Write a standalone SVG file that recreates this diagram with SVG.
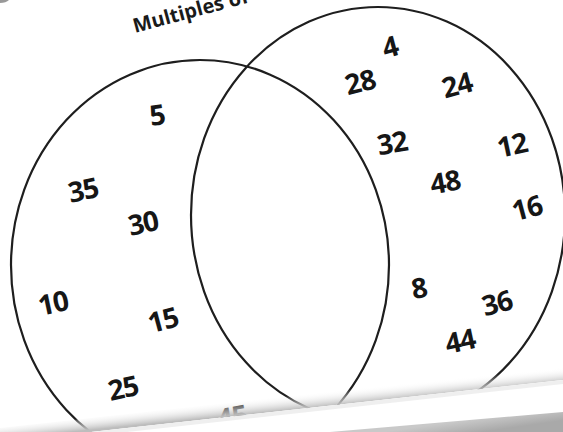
<svg xmlns="http://www.w3.org/2000/svg" width="563" height="432" viewBox="0 0 563 432">
<style>
.c{fill:none;stroke:#1e1e1e;stroke-width:2.2}
.n{font-family:"Open Sans","Liberation Sans",sans-serif;font-weight:700;font-size:28px;fill:#161616;text-anchor:middle;letter-spacing:-1px}
.t{font-family:"Open Sans","Liberation Sans",sans-serif;font-weight:700;font-size:20px;fill:#1a1a1a}
</style>
<defs>
<linearGradient id="shade" gradientUnits="userSpaceOnUse" x1="278.5" y1="396" x2="280" y2="411">
<stop offset="0" stop-color="#ffffff" stop-opacity="0"/>
<stop offset="1" stop-color="#bdbdbd"/>
</linearGradient>
<linearGradient id="floor" gradientUnits="userSpaceOnUse" x1="480" y1="418" x2="482" y2="432">
<stop offset="0" stop-color="#c9c9c9"/>
<stop offset="1" stop-color="#a9a9a9"/>
</linearGradient>
</defs>
<rect width="563" height="432" fill="#ffffff"/>
<path d="M0 0 H9 Q6 3 0 3 Z" fill="#555" opacity="0.6"/>
<text class="t" x="135" y="33" transform="rotate(-15 135 33)">Multiples of</text>
<g id="circle-multiples-of-5">
<ellipse class="c" cx="200" cy="265" rx="189" ry="205"/>
</g>
<g id="circle-multiples-of-4">
<ellipse class="c" cx="378" cy="215" rx="187" ry="208"/>
</g>
<g id="numbers-left">
<text class="n" transform="translate(157,115) rotate(-8)" y="10">5</text>
<text class="n" transform="translate(83,190) rotate(-12)" y="10">35</text>
<text class="n" transform="translate(143,223) rotate(-12)" y="10">30</text>
<text class="n" transform="translate(53,303) rotate(-12)" y="10">10</text>
<text class="n" transform="translate(163,320) rotate(-15)" y="10">15</text>
<text class="n" transform="translate(123,388) rotate(-12)" y="10">25</text>
<text class="n" transform="translate(232,417) rotate(-10)" y="10">45</text>
</g>
<g id="numbers-right">
<text class="n" transform="translate(390,47) rotate(-15)" y="10">4</text>
<text class="n" transform="translate(360,82) rotate(-14)" y="10">28</text>
<text class="n" transform="translate(457,85) rotate(-15)" y="10">24</text>
<text class="n" transform="translate(392,143) rotate(-10)" y="10">32</text>
<text class="n" transform="translate(512,145) rotate(-12)" y="10">12</text>
<text class="n" transform="translate(445,182) rotate(-10)" y="10">48</text>
<text class="n" transform="translate(527,208) rotate(-15)" y="10">16</text>
<text class="n" transform="translate(419,288) rotate(-10)" y="10">8</text>
<text class="n" transform="translate(497,303) rotate(-15)" y="10">36</text>
<text class="n" transform="translate(460,341) rotate(-12)" y="10">44</text>
</g>
<g id="page-edge">
<polygon points="0,428 563,366 563,380 0,442" fill="url(#shade)"/>
<polygon points="0,442 563,380 563,432 0,432" fill="#ffffff"/>
<polygon points="0,442 563,380 563,384 0,446" fill="#e4e4e4" opacity="0.6"/>
<polygon points="330,432 563,412 563,432" fill="url(#floor)"/>
</g>
</svg>
